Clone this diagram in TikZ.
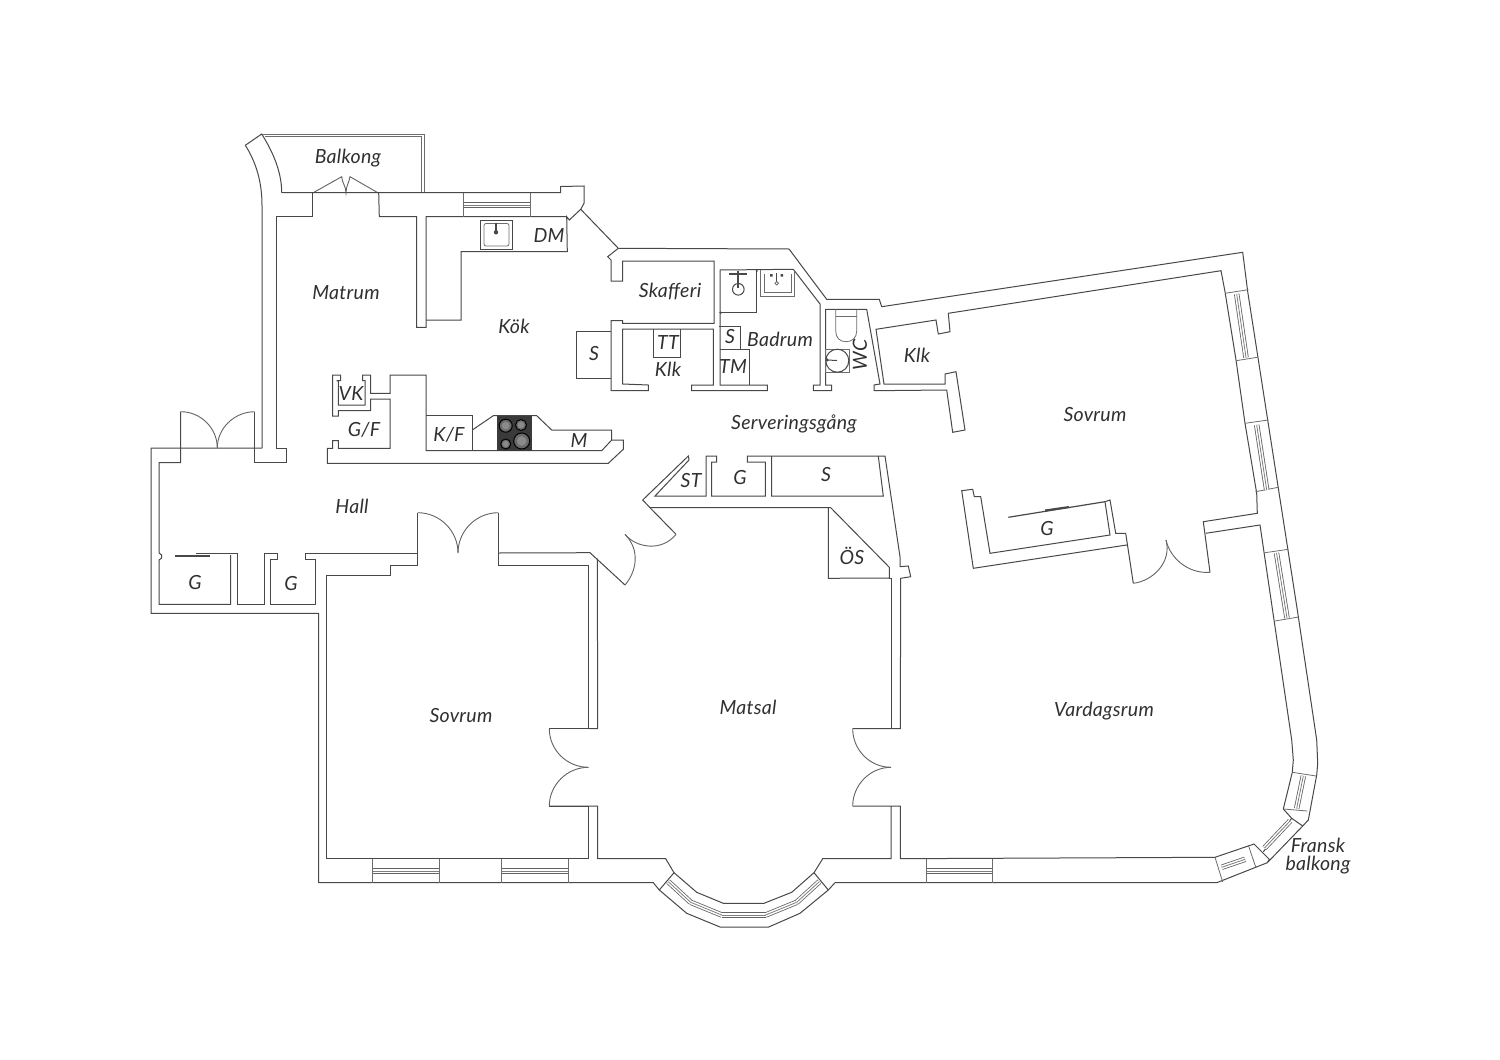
\documentclass[tikz,border=0pt]{standalone}
\usepackage{fontspec}
\setmainfont{Lato}[LetterSpace=1.5]
\tikzset{
  wall/.style={draw=wallc,line width=1pt,line join=miter},
  thin wall/.style={draw=wallc!80,line width=0.8pt},
  door/.style={draw=wallc!85,line width=0.9pt},
  lbl/.style={font=\itshape\fontsize{19.5}{18}\selectfont,text=textc,inner sep=0pt}
}
\definecolor{wallc}{HTML}{484848}
\definecolor{textc}{HTML}{303030}
\definecolor{hob}{HTML}{3A3A3A}
\definecolor{ring}{HTML}{8A8A8A}
\newcommand{\winpane}[2]{%
  \draw[line width=5.4pt,wallc!85] #1 -- #2;
  \draw[line width=3.8pt,white] #1 -- #2;
  \draw[line width=0.8pt,wallc!70] #1 -- #2;}
\begin{document}
\begin{tikzpicture}[x=1pt,y=-1pt]
\useasboundingbox (0,0) rectangle (1500,1060);
\fill[white] (0,0) rectangle (1500,1060);

% ---- balcony
\draw[wall] (245.3,145.3) -- (261.7,134) .. controls (273,152) and (281.7,172) .. (281.7,192.7);
\draw[wall] (245.3,145.3) .. controls (256,162) and (262,182) .. (262,205) -- (262,448);
\draw[thin wall] (261.7,134) -- (424.3,134) -- (424.3,192.7);
\draw[thin wall] (265,136.7) -- (421.7,136.7) -- (421.7,192.7);
\draw[door] (312.7,193) -- (341.7,176.7) .. controls (342,183) and (346,186) .. (346,193)
            .. controls (346,186) and (349,183) .. (350,176.7) -- (378.3,193);

% ---- north wall, matrum, kitchen
\draw[wall] (281.7,192.7) -- (560.7,192.7) -- (560.7,186.5) -- (584,186) -- (584,203.3) -- (580.7,209.3)
   -- (569.3,220) -- (566.7,216.7) -- (567.3,251.7) -- (461,251.7) -- (461,320) -- (426,320);
\draw[wall] (312.7,192.7) -- (312.7,216.7) -- (276,216.7) -- (276,448) -- (286,448) -- (286,462.7)
   -- (254.7,462.7) -- (254.7,411.7);
\draw[wall] (378.7,192.7) -- (379.3,216.7) -- (416.7,216.7) -- (416.7,327.3) -- (426,327.3) -- (426,216.7) -- (566.7,216.7);
% kitchen window
\draw[thin wall] (463.3,192.7) -- (463.3,216.7) (530.7,192.7) -- (530.7,216.7);
\winpane{(464,205)}{(530,205)}
% sink
\draw[wall,fill=white] (480.7,220) rectangle (512.3,249);
\draw[thin wall,rounded corners=2pt] (484,223.5) rectangle (509,246);
\fill[wallc] (496,232.3) circle (2.2);
\draw[wallc,line width=1.1pt] (496,222.5) -- (496,231);

% diagonal and north-east wall
\draw[wall] (580.7,209.3) -- (618.3,248.3) -- (607.7,256.7) -- (611,260) -- (611,281) -- (622.7,281) -- (622.7,261)
   -- (714,261) -- (714,323.3) -- (622.7,323.3) -- (622.7,320.7) -- (611,320.7) -- (611,390.7) -- (648.3,390.7) -- (648.3,385)
   -- (622.7,384) -- (622.7,329) -- (713.3,329) -- (713.3,385) -- (691.7,385) -- (691.7,390.7) -- (767.3,390.7) -- (767.3,385)
   -- (720,385) -- (720,270) -- (793.3,269.3) -- (820,304) -- (820,385) -- (813.3,385) -- (813.3,390.7) -- (831.7,390.7)
   -- (831.7,385) -- (825.7,385) -- (825.7,309.3) -- (866.7,309.3) -- (880,384) -- (874,385) -- (874,390.7) -- (946.7,390)
   -- (952.7,432.3) -- (965,430) -- (956,371.7) -- (945,374) -- (945,384) -- (884,384) -- (876,329.3) -- (936,320) -- (938.3,334)
   -- (950,331.7) -- (948.3,313.3) -- (1221,270.7) -- (1225,291.7) -- (1236,360) -- (1245,423.3) -- (1256.7,493.3) -- (1257.3,513.3)
   -- (1203.3,521.7) -- (1210,572.3);
\draw[wall] (618.3,248.3) -- (789,249) -- (826.7,299.3) -- (879.3,299.3) -- (881.7,306.7) -- (1242.7,252.3) -- (1247.7,291.7)
   -- (1297.3,610) -- (1316.7,740) -- (1317.7,763.3) -- (1316.7,775) -- (1308.3,820) -- (1302.7,826) -- (1267.3,862.7)
   -- (1216.7,882.7) -- (835,882.7) -- (828.3,890) -- (800,913.3) -- (768.7,927) -- (720,927) -- (686.7,913.3) -- (659.3,890)
   -- (653.3,882.7) -- (318.7,882.7) -- (318.7,613.3) -- (151,613.3) -- (151,448) -- (262,448);
% door threshold and hall
\draw[wall] (180.7,411.7) -- (180.7,462.7) -- (159,462.7) -- (159,553) -- (161.7,555) -- (161.7,558) -- (159,560) -- (159,604.3)
   -- (230.7,604.3) -- (230.7,555);
\draw[wall] (230.7,553) -- (237.3,553) -- (237.3,604.3) -- (264.3,604.3) -- (264.3,553) -- (277.7,553) -- (277.7,559) -- (270,559)
   -- (270,604.3) -- (315.3,604.3) -- (315.3,559) -- (305,559) -- (305,553) -- (417.7,553);
\draw[wall] (417.7,512.7) -- (417.7,565) -- (390,565) -- (390,575.7) -- (326.7,575.7) -- (326.7,858.7) -- (588.7,858.7) -- (588.7,806) -- (549.3,806);
\draw[wall] (498.3,512.7) -- (498.3,565) -- (588.7,565) -- (588.7,728.7) -- (549.3,728.7);
\draw[wall] (498.3,553) -- (590,552.7) -- (625,585);
\draw[wall] (597.3,558.7) -- (597.7,728.7) -- (588.7,728.7);
\draw[wall] (549.3,806) -- (597.7,806) -- (597.7,858.7) -- (665.7,858.7) -- (674,872.7) -- (696.7,892.3) -- (723.3,903.3) -- (764,903.3)
   -- (791.7,892.3) -- (814,872.7) -- (822.7,858.7) -- (891,858.7) -- (891,806) -- (852.7,806) -- (900.3,806) -- (900.3,858.7) -- (1215,857.3)
   -- (1254,844) -- (1269.3,859.3) -- (1267.3,862.7);
\draw[wall] (659.3,890) -- (674,872.7) (828.3,890) -- (814,872.7);
\draw[wall] (852.7,728.7) -- (900.3,728.7) -- (900.7,578.3) -- (910.7,576.7) -- (908.3,566) -- (900,566.7) -- (900,556.7) -- (885,456)
   -- (747.3,456) -- (747.3,462) -- (765.3,462) -- (765.3,496) -- (711.7,496) -- (711.7,462) -- (716.7,462) -- (716.7,456) -- (706,456)
   -- (706,496) -- (655,496) -- (689,460) -- (688.3,456) -- (642.7,500) -- (650,507.7) -- (830.7,507.7) -- (889.3,567.3) -- (889.3,578)
   -- (828.3,578.3) -- (828.3,507.7);
\draw[wall] (650,507.7) -- (676,534.3);
\draw[wall] (889.3,578) -- (891,578) -- (891,728.7) -- (852.7,728.7);
\draw[wall] (771.7,456) -- (771.7,496) -- (883.3,496) -- (878.3,456);
% door arcs
\draw[door] (180.7,411.7) .. controls (200.7,411.7) and (217.3,428) .. (217.3,448);
\draw[door] (254.7,411.7) .. controls (234.7,411.7) and (217.3,428) .. (217.3,448);
\draw[door] (417.7,512.7) .. controls (440,512.7) and (458,531) .. (458,553);
\draw[door] (498.3,512.7) .. controls (476,512.7) and (458,531) .. (458,553);
\draw[door] (625,585) .. controls (636,572) and (641,551) .. (625,534.3);
\draw[door] (625,534.3) .. controls (636,548) and (662,552) .. (676,534.3);
\draw[door] (549.3,728.7) .. controls (549.3,750) and (567,767.3) .. (588.3,767.3);
\draw[door] (549.3,806) .. controls (549.3,785) and (567,767.3) .. (588.3,767.3);
\draw[door] (852.7,728.7) .. controls (852.7,750) and (870,767.3) .. (891,767.3);
\draw[door] (852.7,806) .. controls (852.7,785) and (870,767.3) .. (891,767.3);
\draw[door] (1133.3,583.3) .. controls (1153,581) and (1172,562) .. (1166,540);
\draw[door] (1210,572.3) .. controls (1188,574) and (1170,558) .. (1166,540);

% ---- east wall inner, door
\draw[wall] (1205.7,533.3) -- (1260,525) -- (1291.7,740) -- (1293.3,760) -- (1292.3,772.3) -- (1283.3,809) -- (1291.7,818.3) -- (1302.7,826);
\draw[wall] (1291.7,818.3) -- (1263.3,851.7);
\winpane{(1290,821)}{(1264.5,848)}
% east windows
\draw[thin wall] (1225,293.3) -- (1248.3,289.7) (1236,360.7) -- (1257.3,357.3);
\winpane{(1236.7,294)}{(1246,357.5)}
\draw[thin wall] (1245,423.3) -- (1268.3,420) (1255.5,491.7) -- (1278.3,487.3);
\winpane{(1256.7,425)}{(1266.7,490)}
\draw[thin wall] (1265,552.7) -- (1288.3,549.3) (1275,621) -- (1298.5,617);
\winpane{(1276.5,553)}{(1287,618)}
\draw[thin wall] (1292.3,772.3) -- (1316,776) (1283.3,809) -- (1307.3,811);
\winpane{(1303.3,776)}{(1296.7,808.3)}
\draw[thin wall] (1215,857.3) -- (1222.7,882) (1248.3,845) -- (1256,868);
\winpane{(1221.7,867.3)}{(1245,859.3)}

% ---- south windows
\draw[thin wall] (372.5,858.7) -- (372.5,882.7) (439,858.7) -- (439,882.7);
\winpane{(373,871)}{(438.5,871)}
\draw[thin wall] (501.5,858.7) -- (501.5,882.7) (568.3,858.7) -- (568.3,882.7);
\winpane{(502,871)}{(568,871)}
\draw[thin wall] (926.7,858.7) -- (926.7,882.7) (992,858.7) -- (992,882.7);
\winpane{(927,871)}{(991.5,871)}
\winpane{(668.3,881.7)}{(690.7,902.3)}
\winpane{(690.7,902.3)}{(721.7,915)}
\winpane{(721.7,915)}{(765.7,915)}
\winpane{(765.7,915)}{(796.7,902.3)}
\winpane{(796.7,902.3)}{(819.3,881.7)}

% ---- bedroom closet
\draw[wall] (1133.3,583.3) -- (1125.7,533.3) -- (1115.7,533.3) -- (1110,500) -- (1105,501.7) -- (1110,535) -- (990,553.3) -- (980.7,496.7)
   -- (974.3,496.7) -- (972.7,489.3) -- (961.7,490.7) -- (973.3,568.3) -- (1126.7,545);
\draw[wallc,line width=1.2pt] (1008.3,517.3) -- (1105,501.7);
\draw[wallc,line width=2pt] (1045,510.5) -- (1069,507);
% hall closet slider
\draw[wallc,line width=1.4pt] (175,556) -- (210,556);
\draw[wallc,line width=0.8pt] (196,553.5) -- (230.7,553.5);

% ---- kitchen range
\draw[wall] (332.7,375) -- (340.7,375) -- (340.7,380.7) -- (336.7,380.7) -- (338.3,381) -- (338.3,405) -- (365,405) -- (365,380.7) -- (362.7,380.7)
   -- (362.7,375) -- (370.7,375) -- (370.7,393.3) -- (390,393.3) -- (390,375) -- (426,375) -- (426,450.7) -- (601.7,450.7) -- (611.7,440)
   -- (623.3,440) -- (623.3,449.3) -- (608.3,463.3) -- (327.3,463.3) -- (327.3,448.3) -- (332.7,448.3) -- (332.7,440.7) -- (338.3,440.7)
   -- (338.3,448.3) -- (390,448.3) -- (390,399) -- (370.7,399) -- (370.7,410.7) -- (338.3,410.7) -- (338.3,416) -- (332.7,416) -- cycle;
\draw[wall] (426,415.7) -- (472.3,415.7) -- (472.3,450.7);
\draw[wall] (472.3,430) -- (493.3,415.7) -- (536.7,415.7) -- (551.7,430) -- (611.7,430) -- (611.7,440);
\fill[hob] (496.7,415.7) rectangle (532.3,450.7);
\foreach \cx/\cy/\rr in {505.7/425.7/6.5,521/425/5.5,505.7/444/5,521.7/441/8}{
  \draw[black,line width=1pt,fill=ring!60!hob] (\cx,\cy) circle (\rr);
  \fill[ring] (\cx,\cy) circle (\rr*0.6);}

% ---- pantry S box etc
\draw[wall] (611,331.7) -- (576,331.7) -- (576,378.3) -- (611,378.3);
\draw[wall] (653.3,329) -- (653.3,357.3) -- (680,357.3) -- (680,329);

% ---- bathroom
\draw[wall] (720,312.7) -- (756.7,312.7) -- (756.7,270);
\draw[wall] (738.3,289.3) circle (5.8);
\draw[wallc,line width=1.2pt] (729,274) -- (747,274) (738,270.5) -- (738,288);
\fill[wallc] (720.5,312.7) circle (1.3) (756.7,271) circle (1.2);
\draw[thin wall] (760,270) -- (760,296) -- (794,296) -- (794,270.5);
\draw[thin wall] (764,274) -- (764,292.5) -- (791,292.5) -- (791,274);
\fill[wallc] (770,274) rectangle (772.5,276.5) (780.5,274) rectangle (783,276.5);
\draw[wallc,line width=1pt] (776.7,273) -- (776.7,282);
\draw[thin wall] (776.7,283.3) circle (1.8);
\draw[wall] (719.3,326) -- (740.7,326) -- (740.7,349.3);
\draw[wall] (720,349.3) -- (749,349.3) -- (749,385);

% ---- WC
\draw[thin wall] (835.7,309.3) -- (835.7,331) .. controls (835.7,338) and (840,341.7) .. (846,341.7) .. controls (852,341.7) and (856.7,338) .. (856.7,331) -- (856.7,309.3);
\draw[thin wall] (835.7,316) -- (856.7,316);
\draw[thin wall] (825.7,349) rectangle (849,372.3);
\draw[wall] (837.3,360.7) circle (11.5);
\draw[wallc,line width=1pt] (827.3,360) -- (837,360.5);
\fill[wallc] (827.3,360) circle (1.6);

% ---- labels
\node[lbl] (balkong) at (348,158.5) {Balkong};
\node[lbl] (matrum) at (346,292.5) {Matrum};
\node[lbl] (kok) at (514,326) {Kök};
\node[lbl] (dm) at (549,235.5) {DM};
\node[lbl] (skafferi) at (670,292) {Skafferi};
\node[lbl] (s1) at (594,354) {S};
\node[lbl] (tt) at (668,343) {TT};
\node[lbl] (klk1) at (668,369) {Klk};
\node[lbl] (s2) at (730,337) {S};
\node[lbl] (badrum) at (780,339) {Badrum};
\node[lbl] (tm) at (733,367) {TM};
\node[lbl,rotate=90] (wc) at (860,355) {WC};
\node[lbl] (klk2) at (917,355) {Klk};
\node[lbl] (vk) at (351,394) {VK};
\node[lbl] (gf) at (364,429.5) {G/F};
\node[lbl] (kf) at (449,434.5) {K/F};
\node[lbl] (m) at (579,441) {M};
\node[lbl] (serv) at (794,423.5) {Serveringsgång};
\node[lbl] (sov1) at (1095,414.5) {Sovrum};
\node[lbl] (hall) at (352,506) {Hall};
\node[lbl] (st) at (691,481) {ST};
\node[lbl] (g1) at (740,478) {G};
\node[lbl] (s3) at (826,474.5) {S};
\node[lbl] (g2) at (1047,529) {G};
\node[lbl] (os) at (852,556) {ÖS};
\node[lbl] (g3) at (195,583) {G};
\node[lbl] (g4) at (291,584) {G};
\node[lbl] (sov2) at (461,715.5) {Sovrum};
\node[lbl] (matsal) at (748,707) {Matsal};
\node[lbl] (vard) at (1104,711.5) {Vardagsrum};
\node[lbl,align=center] (fransk) at (1318,856) {Fransk\\balkong};
\end{tikzpicture}
\end{document}
